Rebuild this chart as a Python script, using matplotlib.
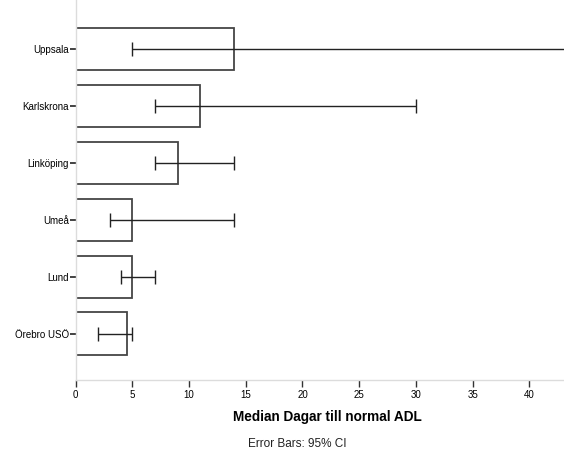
import matplotlib.pyplot as plt
import numpy as np

plt.rcParams['font.family'] = ['Liberation Sans', 'DejaVu Sans']

# median days to normal ADL per hospital, with 95% CI
sites = ['Örebro USÖ', 'Lund', 'Umeå', 'Linköping', 'Karlskrona', 'Uppsala']
median = [4.5, 5, 5, 9, 11, 14]
ci_low = [2, 4, 3, 7, 7, 5]
ci_high = [5, 7, 14, 14, 30, 60]

fig = plt.figure(figsize=(5.64, 4.51), dpi=100)
ax = fig.add_axes([0.1342, 0.1574, 0.8658, 0.8426])

pos = np.arange(len(sites))
ax.barh(pos, median, height=0.75, color='white', edgecolor='#454545', linewidth=1.3, zorder=2)
lo = np.array(median) - np.array(ci_low)
hi = np.array(ci_high) - np.array(median)
ax.errorbar(median, pos, xerr=[lo, hi], fmt='none', ecolor='#222222',
            elinewidth=1.0, capsize=5.2, capthick=1.0, zorder=3)

ax.set_xlim(0, 43.06)
ax.set_ylim(-0.81, 5.86)
ax.set_yticks(pos)
ax.set_yticklabels(sites, fontsize=7)
ax.set_xticks(np.arange(0, 45, 5))
ax.tick_params(axis='x', labelsize=7, length=5, width=1, color='#333333', pad=2.5)
ax.tick_params(axis='y', length=4, width=1.2, color='#222222', pad=1)

for side in ['top', 'right']:
    ax.spines[side].set_visible(False)
for side in ['left', 'bottom']:
    ax.spines[side].set_color('#dcdcdc')
    ax.spines[side].set_linewidth(1.0)

ax.set_xlabel('Median Dagar till normal ADL', fontsize=9.8, fontweight='bold')
ax.xaxis.set_label_coords(0.5145, -0.08)
fig.text(0.527, 0.0155, 'Error Bars: 95% CI', ha='center', va='center', fontsize=8.5, color='#222222')

fig.savefig('out.png', dpi=100)
